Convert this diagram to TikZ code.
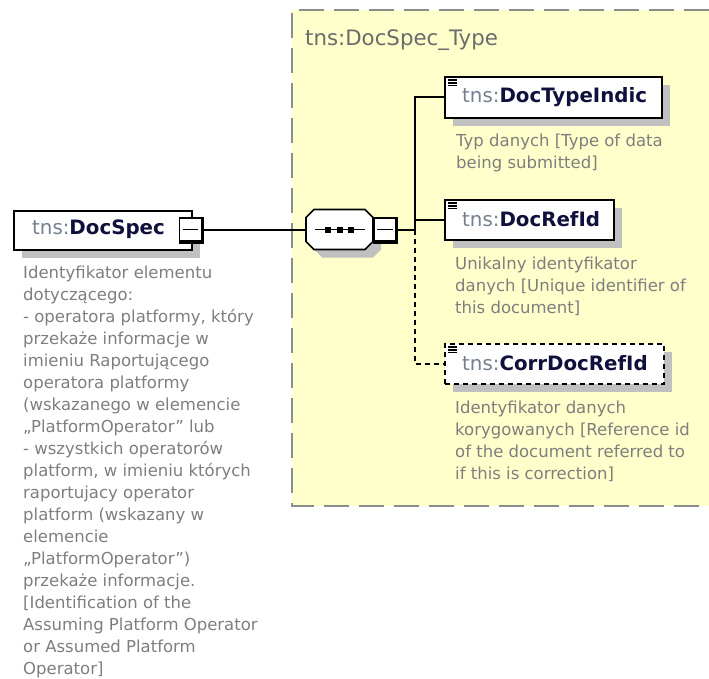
\documentclass[tikz,border=0pt]{standalone}
\usepackage{fontspec}
\setmainfont{DejaVu Sans}
\usetikzlibrary{shadows}
\definecolor{yfill}{HTML}{FFFFCC}
\definecolor{yborder}{HTML}{8C8C8C}
\definecolor{shgray}{HTML}{C0C0C0}
\definecolor{desccol}{HTML}{7E7E7E}
\definecolor{titlecol}{HTML}{6A6C6C}
\definecolor{nscol}{HTML}{748090}
\definecolor{namecol}{HTML}{10103C}
\tikzset{
  shd/.style={drop shadow={shadow xshift=8pt,shadow yshift=-8pt,fill=shgray,opacity=1}},
  elembox/.style={draw=black,line width=2pt,fill=white,rectangle,inner sep=0pt,anchor=north west,shd},
  optbox/.style={elembox,dash pattern=on 5pt off 4pt},
  minusbox/.style={draw=black,line width=1.6pt,fill=white,rectangle,inner sep=0pt,minimum width=23pt,minimum height=23pt},
  conn/.style={line width=2pt,black},
  optconn/.style={conn,dash pattern=on 5pt off 4pt},
  lbl/.style={anchor=west,inner sep=0pt,font=\fontsize{19.8}{22}\selectfont},
  desc/.style={anchor=north west,inner sep=0pt,align=left,text=desccol,font=\fontsize{16.5}{22}\selectfont},
}
\newcommand{\nm}[1]{\textcolor{nscol}{tns:}\textcolor{namecol}{\textbf{#1}}}
\newcommand{\eqicon}[1]{%
  \draw[line width=1.5pt] ([shift={(4pt,-4pt)}]#1.north west) -- ++(9pt,0pt);
  \draw[line width=1.5pt] ([shift={(4pt,-6.8pt)}]#1.north west) -- ++(9pt,0pt);
  \draw[line width=1.5pt] ([shift={(4pt,-9.6pt)}]#1.north west) -- ++(9pt,0pt);
}
\newcommand{\minusdeco}[1]{%
  \draw[line width=3pt] ([shift={(-1pt,0pt)}]#1.north east) -- ([shift={(-1pt,-1pt)}]#1.south east) -- ([shift={(0pt,-1pt)}]#1.south west);
  \draw[line width=1.6pt] ([xshift=4pt]#1.west) -- ([xshift=-5pt]#1.east);
}
\begin{document}
\begin{tikzpicture}[x=1pt,y=-1pt]
\useasboundingbox (0,0) rectangle (709,679);
% complex type area
\fill[yfill] (292,10) rectangle (709,506);
\draw[yborder,line width=2pt,dash pattern=on 25pt off 10pt] (709,10) -- (292,10) -- (292,506) -- (709,506);
\node[anchor=west,inner sep=0pt,text=titlecol,font=\fontsize{21.3}{22}\selectfont] (title) at (305,40) {tns:DocSpec\_Type};

% root element
\node[elembox,minimum width=178pt,minimum height=39pt] (ds) at (13,210) {};
\node[lbl] (dsL) at (32,229.5) {\nm{DocSpec}};
\node[minusbox] (dsm) at (191,229.5) {};
\minusdeco{dsm}
\node[desc] (dsD) at (23,266) {Identyfikator elementu\\dotyczącego:\\- operatora platformy, który\\przekaże informacje w\\imieniu Raportującego\\operatora platformy\\(wskazanego w elemencie\\„PlatformOperator” lub\\- wszystkich operatorów\\platform, w imieniu których\\raportujacy operator\\platform (wskazany w\\elemencie\\„PlatformOperator”)\\przekaże informacje.\\{}[Identification of the\\Assuming Platform Operator\\or Assumed Platform\\Operator]};

% sequence compositor (octagon)
\node[rectangle,inner sep=0pt,minimum width=67pt,minimum height=40pt] (seq) at (339.5,229.5) {};
\fill[shgray,shift={(8pt,-8pt)}] (314,209.5) -- (365,209.5) -- (373,217.5) -- (373,241.5) -- (365,249.5) -- (314,249.5) -- (306,241.5) -- (306,217.5) -- cycle;
\draw[line width=1.6pt,fill=white] (314,209.5) -- (365,209.5) -- (373,217.5) -- (373,241.5) -- (365,249.5) -- (314,249.5) -- (306,241.5) -- (306,217.5) -- cycle;
\draw[line width=1.6pt] (315,229.5) -- (365,229.5);
\foreach \xx in {328,339.5,351} \fill (\xx-3,226.5) rectangle (\xx+3,232.5);
\node[minusbox] (seqm) at (385.5,229.5) {};
\minusdeco{seqm}

\draw[conn] (dsm.east) -- (seq.west);
\coordinate (jn) at (415,229.5);
\draw[conn] (seqm.east) -- (jn);

% child elements
\node[elembox,minimum width=217pt,minimum height=41pt] (dti) at (444,76) {};
\eqicon{dti}
\node[lbl] (dtiL) at (462,97) {\nm{DocTypeIndic}};
\node[desc] (dtiD) at (456,134) {Typ danych [Type of data\\being submitted]};

\node[elembox,minimum width=169pt,minimum height=40pt] (dri) at (444,199) {};
\eqicon{dri}
\node[lbl] (driL) at (462,219.5) {\nm{DocRefId}};
\node[desc] (driD) at (455,257) {Unikalny identyfikator\\danych [Unique identifier of\\this document]};

\node[optbox,minimum width=219pt,minimum height=40pt] (cdr) at (444,343) {};
\eqicon{cdr}
\node[lbl] (cdrL) at (462,363.5) {\nm{CorrDocRefId}};
\node[desc] (cdrD) at (455,401) {Identyfikator danych\\korygowanych [Reference id\\of the document referred to\\if this is correction]};

\draw[conn] (jn) |- (dti.west);
\draw[conn] (jn) |- (dri.west);
\draw[optconn] (jn) |- (cdr.west);
\end{tikzpicture}
\end{document}
